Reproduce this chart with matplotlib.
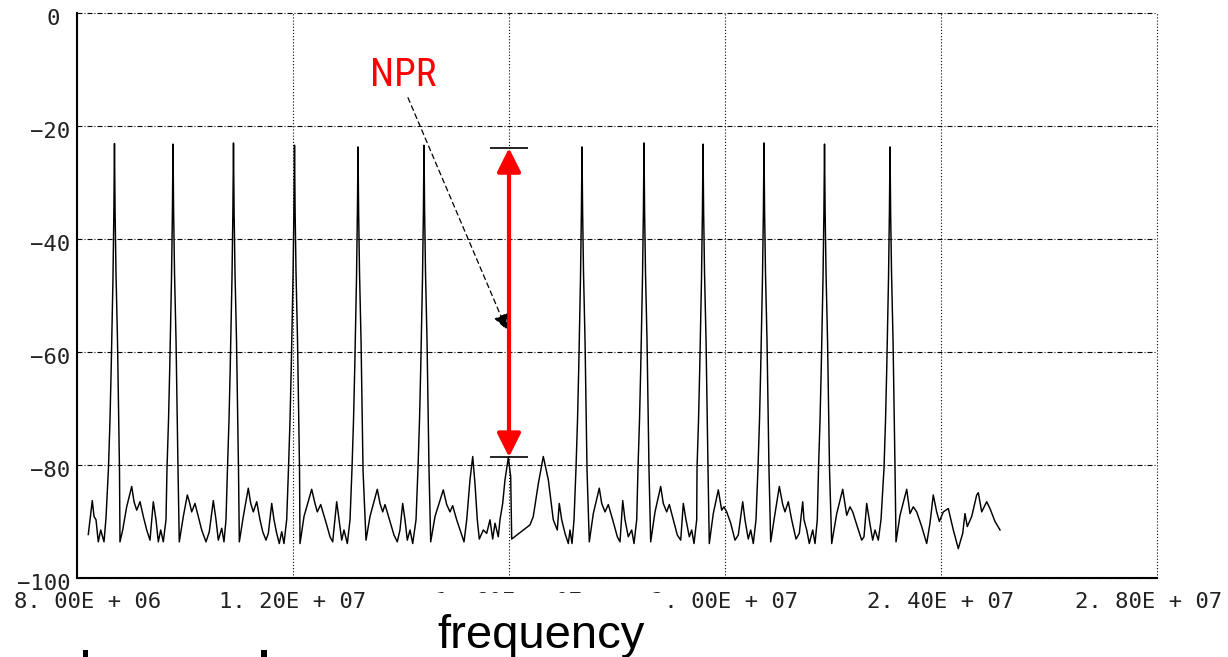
import matplotlib
matplotlib.use("Agg")
import matplotlib.pyplot as plt
import matplotlib.font_manager as fm
import numpy as np
from matplotlib.patches import Rectangle, ArrowStyle
from matplotlib.transforms import ScaledTranslation

# ---------------- data ----------------
# tone centres (MHz) and their peak levels (dB)
tone_mhz = [8.694, 9.778, 10.898, 12.028, 13.204, 14.426,
            17.352, 18.500, 19.593, 20.722, 21.843, 23.056]
tone_db = [-23.1, -23.2, -23.0, -23.4, -23.7, -23.4,
           -23.7, -23.0, -23.2, -23.0, -23.2, -23.7]

# shape of each tone's skirt as read: offset from centre (kHz) and level (None = peak)
skirt_off_khz = [-111, -83, -61, -28, -11, 0, 11, 28, 56, 93]
skirt_db = [-80.5, -72, -63, -47, -35, None, -35, -46, -58, -81]

# noise floor trace between the tones (MHz, dB)
noise_mhz = [
    8.209, 8.283, 8.315, 8.352, 8.394, 8.439, 8.500, 8.537,
    8.796, 8.846, 8.920, 9.013, 9.056, 9.106, 9.167, 9.228, 9.291, 9.352, 9.413, 9.463, 9.506, 9.550, 9.598, 9.648,
    9.894, 9.969, 10.043, 10.080, 10.124, 10.185, 10.246, 10.309, 10.389, 10.450, 10.524, 10.574, 10.617, 10.680, 10.722, 10.759,
    11.006, 11.080, 11.172, 11.217, 11.265, 11.328, 11.389, 11.439, 11.500, 11.543, 11.606, 11.648, 11.698, 11.746, 11.791, 11.833, 11.883,
    12.130, 12.204, 12.346, 12.407, 12.450, 12.513, 12.624, 12.685, 12.735, 12.809, 12.852, 12.902, 12.944, 13.006, 13.056,
    13.352, 13.426, 13.561, 13.611, 13.661, 13.704, 13.796, 13.870, 13.931, 13.981, 14.031, 14.074, 14.117, 14.167, 14.217, 14.278,
    14.550, 14.630, 14.783, 14.846, 14.907, 14.957, 15.031, 15.093, 15.167, 15.217, 15.278, 15.328, 15.370, 15.413, 15.450,
    15.524, 15.587, 15.648, 15.698, 15.741, 15.802, 15.833, 15.883, 15.926, 15.987, 16.031, 16.050, 16.389, 16.450, 16.543,
    16.635, 16.728, 16.820, 16.894, 16.931, 16.976, 17.037, 17.098, 17.130, 17.167, 17.204,
    17.487, 17.561, 17.672, 17.717, 17.778, 17.839, 17.920, 18.006, 18.056, 18.106, 18.148, 18.209, 18.272, 18.315, 18.365,
    18.624, 18.704, 18.809, 18.857, 18.920, 18.969, 19.043, 19.117, 19.180, 19.228, 19.278, 19.339, 19.383, 19.426, 19.476,
    19.709, 19.783, 19.876, 19.939, 19.981, 20.031, 20.106, 20.185, 20.246, 20.328, 20.370, 20.431, 20.476, 20.524, 20.574,
    20.846, 20.926, 21.006, 21.069, 21.111, 21.172, 21.235, 21.315, 21.376, 21.439, 21.463, 21.513, 21.561, 21.624, 21.667, 21.709,
    21.976, 22.069, 22.180, 22.254, 22.315, 22.365, 22.450, 22.531, 22.574, 22.624, 22.672, 22.735, 22.778, 22.839, 22.889,
    23.167, 23.241, 23.365, 23.426, 23.487, 23.550, 23.643, 23.735, 23.796, 23.857, 23.920, 23.969, 24.043, 24.135,
    24.228, 24.320, 24.402, 24.444, 24.487, 24.569, 24.661, 24.691, 24.754, 24.846, 24.907, 25.000, 25.093,
]
noise_db = [
    -92.3, -86.3, -89.1, -89.7, -93.6, -91.5, -93.6, -89.4,
    -93.6, -91.5, -87.4, -83.8, -86.5, -88.0, -86.5, -89.1, -91.5, -93.3, -86.5, -89.7, -93.6, -91.5, -93.6, -89.7,
    -93.6, -89.1, -85.3, -86.5, -88.3, -86.8, -89.1, -91.5, -93.6, -91.8, -86.3, -89.7, -93.3, -91.2, -93.6, -89.7,
    -93.6, -89.1, -84.1, -86.8, -88.3, -86.5, -89.7, -91.8, -93.3, -92.1, -86.8, -89.7, -92.1, -93.9, -91.8, -93.9, -89.7,
    -93.9, -89.1, -84.3, -86.8, -88.3, -87.0, -90.6, -92.7, -93.6, -86.5, -89.7, -93.3, -91.5, -93.9, -89.7,
    -93.3, -89.1, -84.3, -86.8, -88.3, -87.0, -90.0, -92.4, -93.6, -91.5, -86.8, -89.7, -93.3, -91.5, -93.9, -89.7,
    -93.6, -89.1, -84.4, -87.0, -88.3, -87.2, -89.7, -91.5, -93.6, -89.7, -82.6, -78.5, -83.3, -89.7, -93.1,
    -91.5, -92.1, -89.7, -93.1, -90.3, -92.7, -89.7, -86.8, -82.6, -78.7, -82.0, -93.1, -90.6, -89.1, -83.3,
    -78.5, -82.6, -89.7, -91.5, -86.8, -89.7, -92.1, -93.9, -91.5, -93.9, -89.7,
    -93.6, -88.6, -84.1, -86.8, -88.3, -87.0, -89.7, -92.7, -93.6, -86.3, -89.7, -92.7, -91.5, -93.9, -89.7,
    -93.6, -88.3, -83.8, -86.8, -88.3, -87.0, -89.7, -92.4, -93.3, -86.8, -89.7, -92.7, -91.5, -93.9, -89.7,
    -93.9, -88.6, -84.4, -88.0, -87.4, -88.3, -90.3, -93.3, -92.4, -86.5, -89.7, -93.1, -91.5, -93.9, -89.7,
    -93.6, -88.6, -83.8, -87.0, -88.3, -86.5, -89.7, -93.1, -92.1, -86.5, -89.7, -91.5, -93.9, -91.5, -93.9, -89.7,
    -93.9, -88.6, -84.3, -88.9, -87.4, -88.3, -90.9, -93.3, -92.7, -86.8, -89.7, -93.3, -91.5, -93.3, -89.7,
    -93.6, -88.9, -84.3, -88.6, -87.4, -88.3, -90.9, -93.9, -90.3, -85.3, -88.3, -90.0, -88.3, -87.7,
    -91.5, -94.8, -92.1, -88.6, -90.9, -89.1, -85.3, -84.9, -88.3, -86.5, -87.7, -90.0, -91.5,
]

# axes / annotation values
x_ticks = [8.0e6, 1.2e7, 1.6e7, 2.0e7, 2.4e7, 2.8e7]
x_tick_labels = ["8. 00E + 06", "1. 20E + 07", "1. 60E + 07",
                 "2. 00E + 07", "2. 40E + 07", "2. 80E + 07"]
y_ticks = [0, -20, -40, -60, -80, -100]
y_tick_labels = ["0", "\u221220", "\u221240", "\u221260", "\u221280", "\u2212100"]
npr_freq = 1.6e7
npr_top_db = -23.9
npr_bottom_db = -78.6

# ---------------- build trace ----------------
pts = list(zip(noise_mhz, noise_db))
for c, top in zip(tone_mhz, tone_db):
    for off, lv in zip(skirt_off_khz, skirt_db):
        pts.append((c + off / 1000.0, top if lv is None else lv))
pts.sort()
freq = np.array([p[0] for p in pts]) * 1e6
level = np.array([p[1] for p in pts])

# ---------------- fonts ----------------
def pick(names, default):
    for n in names:
        try:
            fm.findfont(fm.FontProperties(family=n), fallback_to_default=False)
            return n
        except Exception:
            pass
    return default

narrow = pick(["Liberation Sans Narrow", "DejaVu Sans Condensed", "Roboto Condensed"], "Liberation Sans")
mono = pick(["DejaVu Sans Mono", "Liberation Mono"], "DejaVu Sans")
sans = pick(["Liberation Sans", "Arial"], "DejaVu Sans")

# ---------------- figure ----------------
W, H, DPI = 1228, 657, 100
fig = plt.figure(figsize=(W / DPI, H / DPI), dpi=DPI)
ax = fig.add_axes([77 / W, 1 - 578 / H, (1157 - 77) / W, (578 - 13) / H])

ax.plot(freq, level, color="black", lw=1.05, zorder=3)

ax.set_xlim(8e6, 2.8e7)
ax.set_ylim(-100, 0)
ax.set_xticks(x_ticks)
ax.set_xticklabels(x_tick_labels)
ax.set_yticks(y_ticks)
ax.set_yticklabels(y_tick_labels)
ax.tick_params(length=0, labelsize=16, colors="#222222")
ax.tick_params(axis="x", pad=10)
ax.tick_params(axis="y", pad=5)
for lab in ax.get_xticklabels() + ax.get_yticklabels():
    lab.set_family(mono)

# shift end labels like the reference
xl = ax.get_xticklabels()
xl[0].set_transform(xl[0].get_transform() + ScaledTranslation(11 / DPI, 0, fig.dpi_scale_trans))
xl[-1].set_transform(xl[-1].get_transform() + ScaledTranslation(-8 / DPI, 0, fig.dpi_scale_trans))
yl = ax.get_yticklabels()
for i, lab in enumerate(yl):
    dx = -10 / DPI if i == 0 else 0
    lab.set_transform(lab.get_transform() + ScaledTranslation(dx, -4 / DPI, fig.dpi_scale_trans))

# grid
ax.grid(True, axis="y", color="black", lw=0.8, linestyle=(0, (4.5, 1.8, 0.9, 1.8)))
ax.grid(True, axis="x", color="black", lw=0.8, linestyle=(0, (1.0, 1.8)))
for gl in ax.get_xgridlines() + ax.get_ygridlines():
    gl.set_clip_on(False)
ax.set_axisbelow(True)
ax.spines["top"].set_visible(False)
ax.spines["right"].set_visible(False)
ax.spines["left"].set_linewidth(1.5)
ax.spines["bottom"].set_linewidth(1.5)

# NPR measurement arrow
cap = 0.36e6
ax.hlines([npr_top_db, npr_bottom_db], npr_freq - cap, npr_freq + cap, color="black", lw=1.2, zorder=4)
ax.annotate("", xy=(npr_freq, npr_top_db), xytext=(npr_freq, npr_bottom_db),
            arrowprops=dict(arrowstyle=ArrowStyle("<|-|>", head_length=0.72, head_width=0.36),
                            color="#ff0000", lw=3.0, shrinkA=0, shrinkB=0, mutation_scale=20),
            zorder=5)

# NPR label and dashed pointer
ax.text(14.04e6, -11.0, "NPR", color="#ff0000", fontsize=28, family=narrow,
        ha="center", va="center", zorder=5)
ax.annotate("", xy=(15.96e6, -56.1), xytext=(14.13e6, -15.0),
            arrowprops=dict(arrowstyle=ArrowStyle("-|>", head_length=0.6, head_width=0.28),
                            color="black", lw=0.9, linestyle=(0, (4, 3)),
                            shrinkA=0, shrinkB=0, mutation_scale=16),
            zorder=5)

# white box with "frequency" covering middle labels
fig.add_artist(Rectangle((418 / W, 0), (663 - 418) / W, (H - 593) / H, transform=fig.transFigure,
                         facecolor="white", edgecolor="none", zorder=10))
fig.text(437 / W, (H - 648) / H, "frequency", fontsize=34, family=sans, color="black",
         ha="left", va="baseline", zorder=11)

# small cut-off fragments at the bottom edge
for x0, w in [(83, 5), (261, 6)]:
    fig.add_artist(Rectangle((x0 / W, 0), w / W, 7 / H, transform=fig.transFigure,
                             facecolor="black", edgecolor="none", zorder=11))

fig.savefig("out.png", dpi=DPI)
